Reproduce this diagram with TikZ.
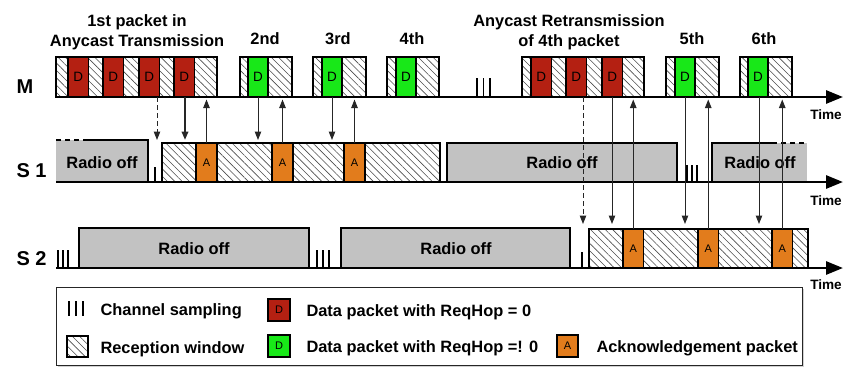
\documentclass[tikz,border=0pt]{standalone}
\usepackage{fontspec}
\setmainfont{Liberation Sans}
\usetikzlibrary{patterns.meta,arrows.meta}
\definecolor{pktred}{RGB}{180,32,18}
\definecolor{pktgreen}{RGB}{24,232,24}
\definecolor{ackorange}{RGB}{226,124,28}
\definecolor{offgray}{RGB}{194,194,194}
\begin{document}
\begin{tikzpicture}[x=1pt,y=-1pt,
  hatch/.style={pattern={Lines[angle=-45,distance=5.2pt,line width=0.6pt]},pattern color=black!70},
  frame/.style={draw=black,line width=1.5pt},
  win/.style={frame,hatch},
  dpkt/.style={frame,fill=pktred},
  gpkt/.style={frame,fill=pktgreen},
  apkt/.style={frame,fill=ackorange},
  offbox/.style={fill=offgray},
  offedge/.style={draw=black,line width=1.5pt},
  offdash/.style={draw=black,line width=1.5pt,dash pattern=on 5pt off 4pt},
  timeaxis/.style={line width=2.8pt,-{Triangle[length=17pt,width=13pt]}},
  sig/.style={line width=1pt,draw=black!85,-{Triangle[length=8.5pt,width=6.5pt]}},
  sigthick/.style={sig,line width=2pt},
  sigdash/.style={sig,dash pattern=on 5pt off 3pt},
  sampl/.style={line width=1.8pt},
  lbl/.style={font=\fontsize{16.4}{20}\selectfont\bfseries},
  rowlbl/.style={font=\fontsize{20}{24}\selectfont\bfseries},
  pl/.style={font=\fontsize{13.5}{13}\selectfont},
  al/.style={font=\fontsize{11}{11}\selectfont},
  tl/.style={font=\fontsize{13.6}{15}\selectfont\bfseries},
]
\useasboundingbox (0,0) rectangle (849,367);

% ---------- titles ----------
\node[lbl,anchor=base] (t1a) at (137,26) {1st packet in};
\node[lbl,anchor=base] (t1b) at (137,46) {Anycast Transmission};
\node[lbl,anchor=base] (t2) at (265,44) {2nd};
\node[lbl,anchor=base] (t3) at (338,44) {3rd};
\node[lbl,anchor=base] (t4) at (412,44) {4th};
\node[lbl,anchor=base] (tra) at (569,26) {Anycast Retransmission};
\node[lbl,anchor=base] (trb) at (569,46) {of 4th packet};
\node[lbl,anchor=base] (t5) at (692,44) {5th};
\node[lbl,anchor=base] (t6) at (764,44) {6th};

% ---------- row labels ----------
\node[rowlbl,anchor=base west] (lm) at (13,93) {M};
\node[rowlbl,anchor=base west] (ls1) at (13,177) {S 1};
\node[rowlbl,anchor=base west] (ls2) at (13,265) {S 2};

% ---------- M row ----------
\foreach \a/\b in {56/217,240/292,313/366,387/439,522/644,666/719,740/792}
  \draw[win] (\a,57) rectangle (\b,97);
\foreach \a in {68,103,139,174,531,566,602}{
  \draw[dpkt] (\a,57) rectangle ++(20.5,40);
  \node[pl] (d\a) at (\a+10.25,77) {D};
}
\foreach \a in {248,322,396,675,748}{
  \draw[gpkt] (\a,57) rectangle ++(20,40);
  \node[pl] (g\a) at (\a+10,77) {D};
}
\foreach \x in {477,483.5,490}
  \draw[sampl] (\x,78) -- (\x,97);

% ---------- S1 row ----------
\fill[offbox] (56,140) rectangle (148,182);
\draw[offedge] (85,140) -- (148,140) -- (148,182);
\draw[offdash] (56,140) -- (85,140);
\node[lbl] (ro1) at (102,163) {Radio off};

\draw[win] (162,143) rectangle (440,182);
\foreach \a in {196,272,344}{
  \draw[apkt] (\a,143) rectangle ++(21,39);
  \node[al] (a\a) at (\a+10.5,163) {A};
}
\draw[offedge,fill=offgray] (447,182) -- (447,143) -- (677,143) -- (677,182);
\node[lbl] (ro2) at (562,163) {Radio off};
\fill[offbox] (712,143) rectangle (807,182);
\draw[offedge] (712,182) -- (712,143) -- (772,143);
\draw[offdash] (772,143) -- (807,143);
\node[lbl] (ro3) at (760,163) {Radio off};
\draw[sampl] (155,167) -- (155,182);
\foreach \x in {687,692,697}
  \draw[sampl] (\x,165) -- (\x,182);

% ---------- S2 row ----------
\draw[offedge,fill=offgray] (79,268) -- (79,228) -- (309,228) -- (309,268);
\node[lbl] (ro4) at (194,249) {Radio off};
\draw[offedge,fill=offgray] (341,268) -- (341,228) -- (570,228) -- (570,268);
\node[lbl] (ro5) at (456,249) {Radio off};
\draw[win] (589,229) rectangle (808,268);
\foreach \a in {623,698,772}{
  \draw[apkt] (\a,229) rectangle ++(20.5,39);
  \node[al] (b\a) at (\a+10.25,249) {A};
}
\foreach \x in {58,63,68,317,323,329}
  \draw[sampl] (\x,250) -- (\x,268);
\draw[sampl] (582,252) -- (582,268);

% ---------- time axes ----------
\coordinate (m0) at (56,97);   \coordinate (m1) at (843,97);
\coordinate (s10) at (56,182); \coordinate (s11) at (843,182);
\coordinate (s20) at (56,268); \coordinate (s21) at (843,268);
\draw[timeaxis] (m0) -- (m1);
\draw[timeaxis] (s10) -- (s11);
\draw[timeaxis] (s20) -- (s21);
\node[tl] (tm) at (826,115) {Time};
\node[tl] (ts1) at (826,201) {Time};
\node[tl] (ts2) at (826,285) {Time};

% ---------- signal arrows ----------
% M -> S1
\coordinate (u1) at (157,97);  \coordinate (v1) at (157,140);
\coordinate (u2) at (185,97);  \coordinate (v2) at (185,140);
\coordinate (u3) at (258,97);  \coordinate (v3) at (258,140);
\coordinate (u4) at (332,97);  \coordinate (v4) at (332,140);
\draw[sigdash] (u1) -- (v1);
\draw[sigthick] (u2) -- (v2);
\draw[sig] (u3) -- (v3);
\draw[sig] (u4) -- (v4);
% S1 -> M
\coordinate (p1) at (206.5,143); \coordinate (q1) at (206.5,99.5);
\coordinate (p2) at (282.5,143); \coordinate (q2) at (282.5,99.5);
\coordinate (p3) at (354.5,143); \coordinate (q3) at (354.5,99.5);
\draw[sig] (p1) -- (q1);
\draw[sig] (p2) -- (q2);
\draw[sig] (p3) -- (q3);
% M -> S2
\coordinate (u5) at (583,97);  \coordinate (v5) at (583,224);
\coordinate (u6) at (612,97);  \coordinate (v6) at (612,224);
\coordinate (u7) at (685,97);  \coordinate (v7) at (685,224);
\coordinate (u8) at (759,97);  \coordinate (v8) at (759,224);
\draw[sigdash] (u5) -- (v5);
\draw[sig] (u6) -- (v6);
\draw[sig] (u7) -- (v7);
\draw[sig] (u8) -- (v8);
% S2 -> M
\coordinate (p4) at (633.25,229); \coordinate (q4) at (633.25,99.5);
\coordinate (p5) at (708.25,229); \coordinate (q5) at (708.25,99.5);
\coordinate (p6) at (782.25,229); \coordinate (q6) at (782.25,99.5);
\draw[sig] (p4) -- (q4);
\draw[sig] (p5) -- (q5);
\draw[sig] (p6) -- (q6);

% ---------- legend ----------
\fill[black!18] (57.5,288.5) rectangle (804,367);
\draw[black!85,fill=white,line width=1pt] (56,287) rectangle (802,365.5);
\foreach \x in {69,76,83}
  \draw[sampl] (\x,301) -- (\x,316);
\node[lbl,anchor=base west] (lg1) at (97,315) {Channel sampling};
\draw[win] (67,336) rectangle (88,357);
\node[lbl,anchor=base west] (lg2) at (97,353) {Reception window};
\draw[dpkt] (268,299) rectangle (290,321);
\node[al] (lgd1) at (279,310) {D};
\node[lbl,anchor=base west] (lg3) at (303,316) {Data packet with ReqHop = 0};
\draw[gpkt] (268,335) rectangle (290,357);
\node[al] (lgd2) at (279,346) {D};
\node[lbl,anchor=base west] (lg4) at (303,352) {Data packet with ReqHop =! 0};
\draw[apkt] (557,335) rectangle (578,357);
\node[al] (lga) at (567.5,346) {A};
\node[lbl,anchor=base west] (lg5) at (593,352) {Acknowledgement packet};
\end{tikzpicture}
\end{document}
